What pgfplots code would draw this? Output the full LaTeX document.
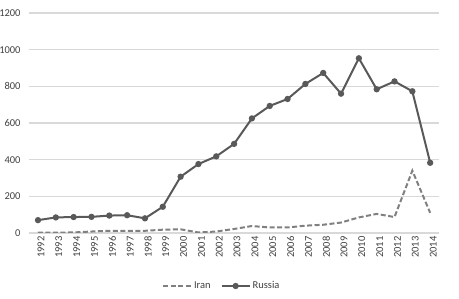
\documentclass[border=0pt]{standalone}
\usepackage{fontspec}
\setmainfont{Carlito}
\usepackage{pgfplots}
\pgfplotsset{compat=1.18}
\definecolor{ru}{HTML}{595959}
\definecolor{ir}{HTML}{808080}
\definecolor{gridc}{HTML}{D9D9D9}
\definecolor{txt}{HTML}{404040}
\begin{document}
\begin{tikzpicture}
\useasboundingbox (-38pt,-66pt) rectangle (421pt,233pt);
\begin{axis}[
  at={(0,0)}, anchor=origin,
  scale only axis, width=410pt, height=220pt,
  xmin=-0.5, xmax=22.5, ymin=0, ymax=1200,
  ytick={0,200,...,1200},
  xtick={0,...,22},
  xticklabels={1992,1993,1994,1995,1996,1997,1998,1999,2000,2001,2002,2003,2004,2005,2006,2007,2008,2009,2010,2011,2012,2013,2014},
  xticklabel style={rotate=90, anchor=east, font=\fontsize{10.5}{12}\selectfont, text=txt},
  yticklabel style={font=\fontsize{10.5}{12}\selectfont, text=txt},
  /pgf/number format/assume math mode=true,
  /pgf/number format/1000 sep={},
  major tick length=0pt,
  ymajorgrids, grid style={gridc, line width=1.2pt},
  axis line style={draw=none},
  yticklabel style={xshift=-5pt},
  xticklabel style={yshift=-3pt},
  legend columns=2,
  legend style={at={(0.47,0)}, anchor=center, yshift=-53pt, draw=none, fill=none,
    font=\fontsize{10.5}{12}\selectfont, text=txt, /tikz/every even column/.append style={column sep=8pt}},
  legend image code/.code={\draw[#1] (0pt,0pt) -- (28pt,0pt); \draw[#1, only marks] plot coordinates {(14pt,0pt)};},
]
\addplot[ir, line width=2pt, dash pattern=on 5pt off 2.5pt, mark=none] coordinates {
(0,2)(1,2)(2,3)(3,8)(4,12)(5,12)(6,12)(7,18)(8,20)(9,3)(10,8)(11,22)(12,38)(13,30)(14,30)(15,40)(16,45)(17,57)(18,85)(19,104)(20,87)(21,340)(22,110)};
\addlegendentry{Iran}
\addplot[ru, line width=2pt, mark=*, mark size=2.1pt, mark options={solid, fill=ru}] coordinates {
(0,70)(1,85)(2,87)(3,88)(4,95)(5,97)(6,80)(7,143)(8,307)(9,376)(10,418)(11,486)(12,625)(13,693)(14,731)(15,813)(16,873)(17,760)(18,953)(19,784)(20,827)(21,773)(22,383)};
\addlegendentry{Russia}
\end{axis}
\end{tikzpicture}
\end{document}
